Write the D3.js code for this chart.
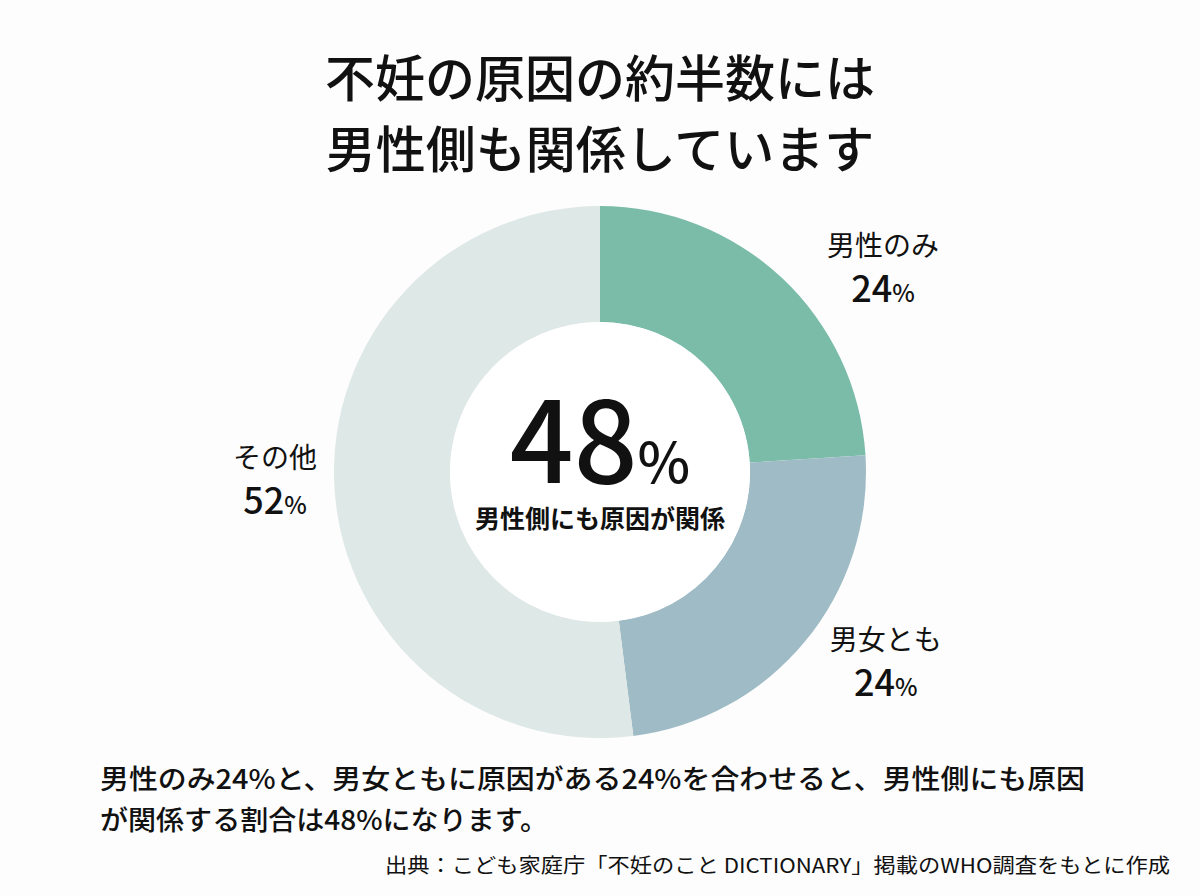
<!DOCTYPE html>
<html lang="ja">
<head>
  <meta charset="utf-8">
  <style>
    body { margin: 0; background: #fdfdfd; }
    text { font-family: "Noto Sans CJK JP", "Noto Sans", sans-serif; fill: #111; }
  </style>
  <script src="https://d3js.org/d3.v7.min.js"></script>
</head>
<body>
  <script>
    const categories = ["男性のみ", "男女とも", "その他"];
    const values = [24, 24, 52];
    const titleLines = ["不妊の原因の約半数には", "男性側も関係しています"];
    const centerValue = "48";
    const centerLabel = "男性側にも原因が関係";
    const noteLines = [
      "男性のみ24%と、男女ともに原因がある24%を合わせると、男性側にも原因",
      "が関係する割合は48%になります。"
    ];
    const source = "出典：こども家庭庁「不妊のこと DICTIONARY」掲載のWHO調査をもとに作成";

    const width = 1200, height = 896;
    const cx = 600, cy = 472;
    const outerR = 266, innerR = 150;

    const svg = d3.select("body").append("svg")
      .attr("width", width)
      .attr("height", height);

    svg.append("rect").attr("width", width).attr("height", height).attr("fill", "#fdfdfd");

    // title
    svg.selectAll(".title")
      .data(titleLines)
      .join("text")
      .attr("class", "title")
      .attr("x", 600)
      .attr("y", (d, i) => 97 + i * 71)
      .attr("text-anchor", "middle")
      .attr("font-size", 50)
      .attr("font-weight", 500)
      .text(d => d);

    const color = d3.scaleOrdinal()
      .domain(categories)
      .range(["#7bbca8", "#9fbcc6", "#dee8e6"]);

    const pie = d3.pie().sort(null).value(d => d.value);
    const arcs = pie(categories.map((c, i) => ({ name: c, value: values[i] })));

    const arc = d3.arc().innerRadius(innerR).outerRadius(outerR);

    const g = svg.append("g").attr("transform", `translate(${cx},${cy})`);

    g.selectAll("path")
      .data(arcs)
      .join("path")
      .attr("d", arc)
      .attr("fill", d => color(d.data.name));

    g.append("circle").attr("r", innerR).attr("fill", "#fff");

    // center text
    const big = g.append("text")
      .attr("y", 11)
      .attr("text-anchor", "middle");
    big.append("tspan").attr("font-size", 112).attr("font-weight", 500).text(centerValue);
    big.append("tspan").attr("font-size", 56).attr("font-weight", 500).text("%");

    g.append("text")
      .attr("y", 56)
      .attr("text-anchor", "middle")
      .attr("font-size", 25)
      .attr("font-weight", 700)
      .text(centerLabel);

    // outside labels: nudge angle (deg) and radius per slice
    const labelNudge = [{ a: 11, r: 349 }, { a: -6, r: 343 }, { a: 2.2, r: 325 }];
    const lab = g.selectAll(".lab")
      .data(arcs)
      .join("g")
      .attr("class", "lab")
      .attr("transform", (d, i) => {
        const ang = (d.startAngle + d.endAngle) / 2 + labelNudge[i].a * Math.PI / 180;
        const r = labelNudge[i].r;
        return `translate(${r * Math.sin(ang)},${-r * Math.cos(ang)})`;
      });

    lab.append("text")
      .attr("y", -12)
      .attr("text-anchor", "middle")
      .attr("font-size", 28)
      .text(d => d.data.name);

    const pct = lab.append("text")
      .attr("y", 34)
      .attr("text-anchor", "middle");
    pct.append("tspan").attr("font-size", 36).attr("font-weight", 500).text(d => d.data.value);
    pct.append("tspan").attr("font-size", 24).attr("font-weight", 500).text("%");

    // notes
    const noteLen = [985, 448];
    svg.selectAll(".note")
      .data(noteLines)
      .join("text")
      .attr("class", "note")
      .attr("x", 100)
      .attr("y", (d, i) => 789 + i * 41)
      .attr("font-size", 27)
      .attr("font-weight", 500)
      .attr("textLength", (d, i) => noteLen[i])
      .attr("lengthAdjust", "spacingAndGlyphs")
      .text(d => d);

    svg.append("text")
      .attr("x", 1170)
      .attr("y", 873)
      .attr("text-anchor", "end")
      .attr("font-size", 20)
      .attr("textLength", 785)
      .attr("lengthAdjust", "spacingAndGlyphs")
      .text(source);
  </script>
</body>
</html>
